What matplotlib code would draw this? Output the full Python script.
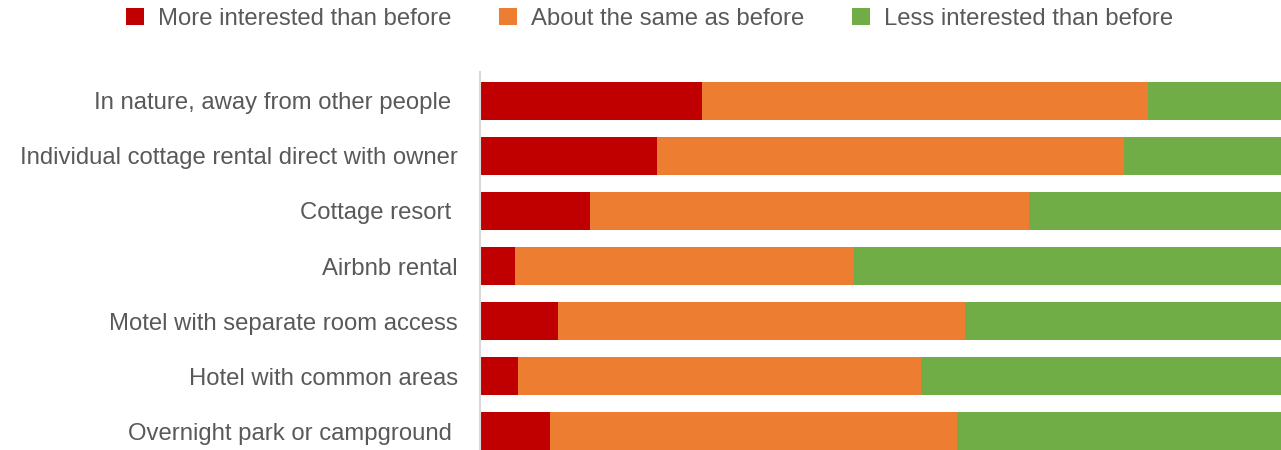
import matplotlib
matplotlib.use("Agg")
import matplotlib.pyplot as plt
from matplotlib.patches import Patch
import numpy as np

plt.rcParams['font.family'] = ['Liberation Sans', 'DejaVu Sans']

categories = [
    "In nature, away from other people ",
    "Individual cottage rental direct with owner",
    "Cottage resort ",
    "Airbnb rental",
    "Motel with separate room access",
    "Hotel with common areas",
    "Overnight park or campground ",
]
series_names = ["More interested than before", "About the same as before", "Less interested than before"]
more = [27.7, 22.1, 13.7, 4.4, 9.7, 4.7, 8.7]
same = [55.7, 58.3, 54.9, 42.3, 50.9, 50.3, 50.9]
less = [16.6, 19.6, 31.4, 53.3, 39.4, 45.0, 40.4]

colors = ["#C00000", "#ED7D31", "#70AD47"]
text_color = "#595959"

fig = plt.figure(figsize=(12.81, 4.5), dpi=100)
ax = fig.add_axes([480/1281, 0, 1 - 480/1281, (450-72)/450])

y = np.arange(len(categories))
h = 0.68
left = np.zeros(len(categories))
for vals, c, name in zip([more, same, less], colors, series_names):
    ax.barh(y, vals, left=left, height=h, color=c, label=name)
    left += np.array(vals)

ax.set_xlim(0, 100)
ax.set_ylim(6.345, -0.527)
ax.set_yticks(y)
ax.set_yticklabels(categories, fontsize=17.2, color=text_color)
ax.tick_params(axis='y', length=0, pad=15.8)
ax.set_xticks([])
for s in ['top', 'right', 'bottom']:
    ax.spines[s].set_visible(False)
ax.spines['left'].set_color('#D9D9D9')
ax.spines['left'].set_linewidth(1.5)

handles = [Patch(facecolor=c, edgecolor='none') for c in colors]
leg = fig.legend(handles, series_names, loc='upper center', ncol=3, frameon=False,
                 bbox_to_anchor=(0.507, 1.03), fontsize=17.2,
                 handlelength=0.75, handleheight=0.75, handletextpad=0.59,
                 columnspacing=2.0, labelcolor=text_color)

fig.savefig("out.png", dpi=100)
